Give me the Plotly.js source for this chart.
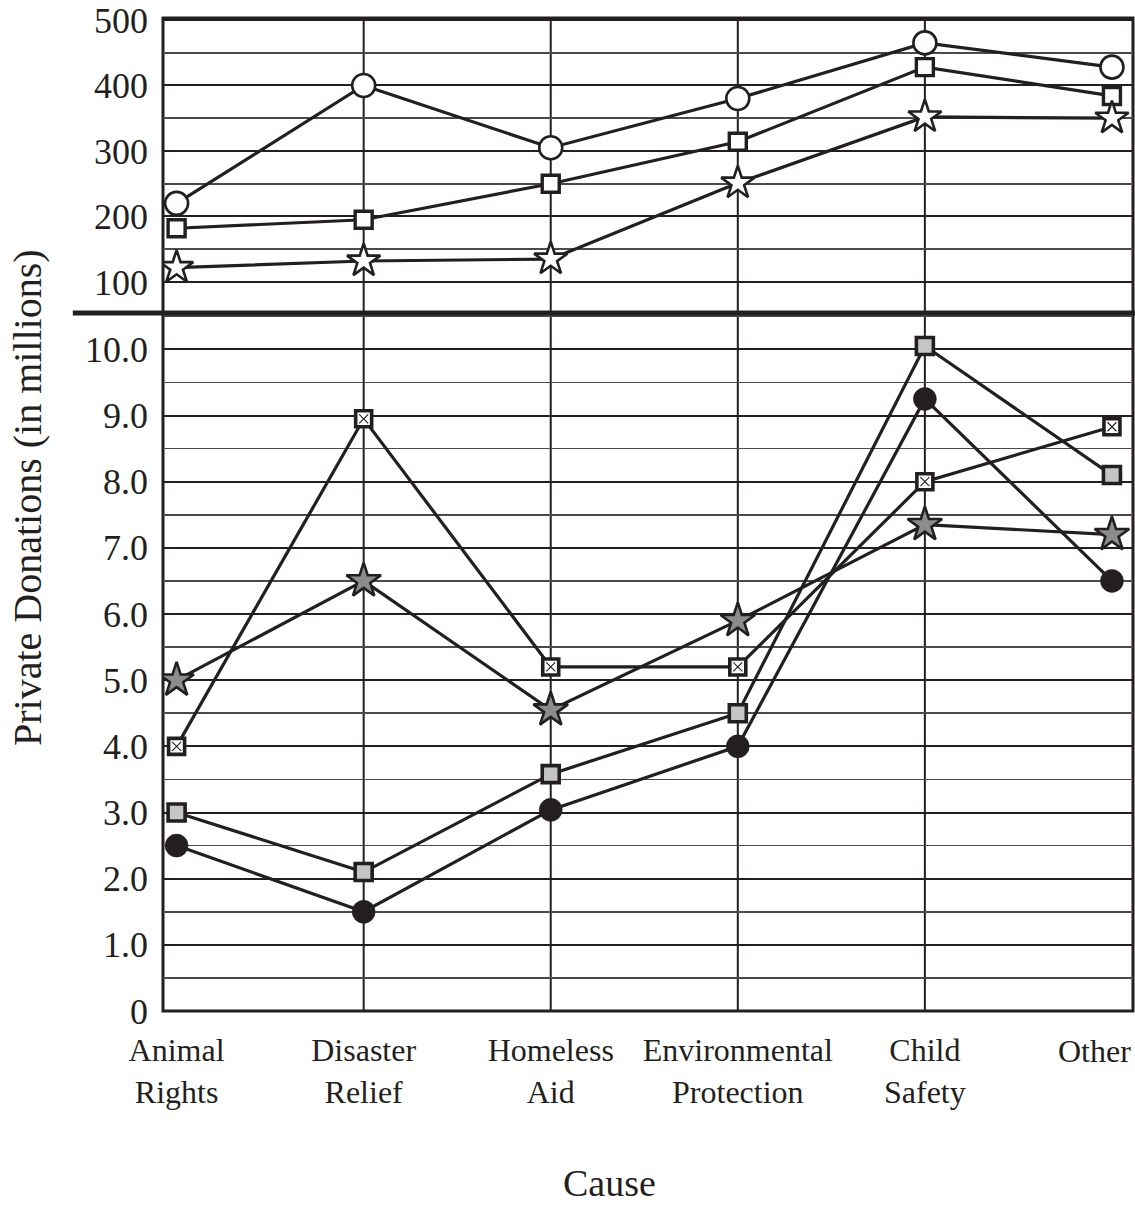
<!DOCTYPE html>
<html>
<head>
<meta charset="utf-8">
<script src="https://cdn.plot.ly/plotly-3.0.1.min.js"></script>
<style>html,body{margin:0;padding:0;background:#fff;}</style>
</head>
<body>
<div id="chart" style="width:1135px;height:1205px;"></div>
<script>
// ---- data ----
const categories = ['Animal Rights', 'Disaster Relief', 'Homeless Aid', 'Environmental Protection', 'Child Safety', 'Other'];
const tickLabels = ['Animal<br>Rights', 'Disaster<br>Relief', 'Homeless<br>Aid', 'Environmental<br>Protection', 'Child<br>Safety', 'Other'];

// upper panel (100-500)
const upperOpenCircle = [220, 400, 305, 380, 465, 428];
const upperOpenSquare = [182, 195, 250, 314, 428, 384];
const upperOpenStar   = [122, 132, 135, 251, 352, 350];

// lower panel (0-10)
const lowerCrossSquare = [4.0, 8.95, 5.2, 5.2, 8.0, 8.83];
const lowerGrayStar    = [5.0, 6.5, 4.55, 5.9, 7.35, 7.2];
const lowerGraySquare  = [3.0, 2.1, 3.58, 4.5, 10.05, 8.1];
const lowerBlackCircle = [2.5, 1.5, 3.04, 4.0, 9.25, 6.5];

const upperTickValues = [100, 200, 300, 400, 500];
const lowerTickValues = [0, 1, 2, 3, 4, 5, 6, 7, 8, 9, 10];
const lowerTickText = ['0', '1.0', '2.0', '3.0', '4.0', '5.0', '6.0', '7.0', '8.0', '9.0', '10.0'];

// ---- styling ----
const INK = '#231f20';
const FONT = 'Liberation Serif, Times New Roman, serif';
const LW = 3.2;

function lineTrace(y, axis) {
  return {x: categories, y: y, yaxis: axis, mode: 'lines', line: {color: INK, width: LW},
          hoverinfo: 'skip', showlegend: false};
}
function markerTrace(y, axis, symbol, size, fill, lw, lc) {
  return {x: categories, y: y, yaxis: axis, mode: 'markers',
          marker: {symbol: symbol, size: size, color: fill, line: {color: lc || INK, width: lw}},
          showlegend: false};
}

const traces = [
  lineTrace(upperOpenCircle, 'y2'),
  lineTrace(upperOpenSquare, 'y2'),
  lineTrace(upperOpenStar, 'y2'),
  lineTrace(lowerCrossSquare, 'y'),
  lineTrace(lowerGrayStar, 'y'),
  lineTrace(lowerGraySquare, 'y'),
  lineTrace(lowerBlackCircle, 'y'),
  markerTrace(upperOpenCircle, 'y2', 'circle', 23, '#ffffff', 2.6),
  markerTrace(upperOpenSquare, 'y2', 'square', 17, '#ffffff', 3.4),
  markerTrace(upperOpenStar, 'y2', 'star', 25, '#ffffff', 2.6),
  markerTrace(lowerCrossSquare, 'y', 'square', 16, '#ffffff', 3.6),
  {x: categories, y: lowerCrossSquare, yaxis: 'y', mode: 'markers',
   marker: {symbol: 'x-thin-open', size: 9, color: INK, line: {color: INK, width: 1.1}},
   hoverinfo: 'skip', showlegend: false},
  markerTrace(lowerGrayStar, 'y', 'star', 26, '#8c8c8e', 2.6),
  markerTrace(lowerGraySquare, 'y', 'square', 17, '#c4c5c7', 3.6),
  markerTrace(lowerBlackCircle, 'y', 'circle', 23, INK, 0.5),
];

// the last label sits against the page edge in the reference: it is drawn as an annotation
const lastIdx = categories.length - 1;
const tickText = tickLabels.map((t, i) => i === lastIdx ? '' : t);

const SPLIT = 0.7029;
const shapes = [];
// vertical grid lines through the inner categories
categories.slice(1, lastIdx).forEach(c => {
  shapes.push({type: 'line', xref: 'x', yref: 'paper', x0: c, x1: c, y0: 0, y1: 1,
               line: {color: INK, width: 2}, layer: 'below'});
});
// frame
shapes.push({type: 'rect', xref: 'paper', yref: 'paper', x0: 0, x1: 1, y0: 0, y1: 1,
             line: {color: INK, width: 3}, layer: 'below'});
// thick separator between the two scales
shapes.push({type: 'line', xref: 'paper', yref: 'paper', x0: -0.093, x1: 1.01, y0: SPLIT, y1: SPLIT,
             line: {color: INK, width: 5}, layer: 'above'});

const layout = {
  width: 1135, height: 1205,
  margin: {l: 163, r: 2, t: 18, b: 194},
  paper_bgcolor: '#ffffff', plot_bgcolor: '#ffffff',
  font: {family: FONT, color: INK},
  showlegend: false,
  xaxis: {
    type: 'category', categoryorder: 'array', categoryarray: categories,
    range: [-0.0727, 5.1126],
    tickmode: 'array', tickvals: categories, ticktext: tickText,
    tickfont: {family: FONT, size: 32, color: INK},
    showgrid: false, zeroline: false, showline: false, ticks: '',
    ticklabelstandoff: 17, fixedrange: true
  },
  yaxis: {
    domain: [0, SPLIT], range: [0, 10.549],
    tickmode: 'array', tickvals: lowerTickValues, ticktext: lowerTickText,
    tickfont: {family: FONT, size: 36, color: INK},
    showgrid: true, gridcolor: INK, gridwidth: 2,
    minor: {tickmode: 'linear', tick0: 0, dtick: 0.5, showgrid: true, gridcolor: '#4a4a4a', gridwidth: 1.6, ticks: ''},
    zeroline: false, showline: false, ticks: '', ticklabelstandoff: 14
  },
  yaxis2: {
    domain: [SPLIT, 1], range: [52.6, 503], anchor: 'x',
    tickmode: 'array', tickvals: upperTickValues, ticktext: upperTickValues.map(String),
    tickfont: {family: FONT, size: 36, color: INK},
    showgrid: true, gridcolor: INK, gridwidth: 2,
    minor: {tickmode: 'linear', tick0: 0, dtick: 50, showgrid: true, gridcolor: '#4a4a4a', gridwidth: 1.6, ticks: ''},
    zeroline: false, showline: false, ticks: '', ticklabelstandoff: 14
  },
  shapes: shapes,
  annotations: [
    {text: tickLabels[lastIdx], xref: 'x', yref: 'paper', x: categories[lastIdx], y: 0,
     xanchor: 'center', yanchor: 'middle', xshift: -17, yshift: -40, showarrow: false,
     font: {family: FONT, size: 32, color: INK}},
    {text: 'Private Donations (in millions)', textangle: -90, xref: 'paper', yref: 'paper',
     x: -0.1402, y: 0.5166, xanchor: 'center', yanchor: 'middle', showarrow: false,
     font: {family: FONT, size: 40, color: INK}},
    {text: 'Cause', xref: 'paper', yref: 'paper', x: 0.4608, y: -0.1732,
     xanchor: 'center', yanchor: 'middle', showarrow: false,
     font: {family: FONT, size: 38, color: INK}}
  ]
};

Plotly.newPlot('chart', traces, layout, {staticPlot: true, displayModeBar: false});
</script>
</body>
</html>
